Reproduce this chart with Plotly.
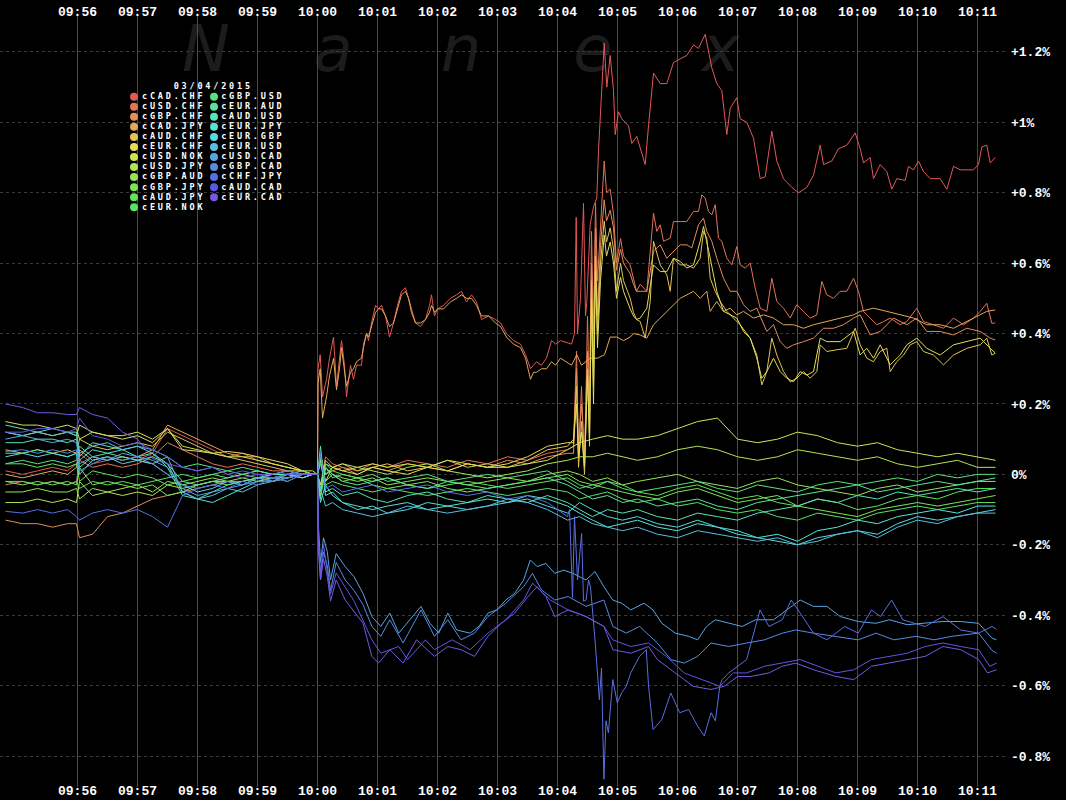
import colorsys
import pandas as pd
import plotly.graph_objects as go

# ---------------- data (seconds relative to 10:00:00, values in %) ----------------
DATE_LABEL = "03/04/2015"
BASE_TIME = "2015-03-04 10:00:00"

SERIES_NAMES = ["cCAD.CHF", "cUSD.CHF", "cGBP.CHF", "cCAD.JPY", "cAUD.CHF", "cEUR.CHF",
                "cUSD.NOK", "cUSD.JPY", "cGBP.AUD", "cGBP.JPY", "cAUD.JPY", "cEUR.NOK",
                "cGBP.USD", "cEUR.AUD", "cAUD.USD", "cEUR.JPY", "cEUR.GBP", "cEUR.USD",
                "cUSD.CAD", "cGBP.CAD", "cCHF.JPY", "cAUD.CAD", "cEUR.CAD"]

X_TICK_MINUTES = [-4, -3, -2, -1, 0, 1, 2, 3, 4, 5, 6, 7, 8, 9, 10, 11]   # 09:56 ... 10:11
Y_TICKS = [1.2, 1.0, 0.8, 0.6, 0.4, 0.2, 0.0, -0.2, -0.4, -0.6, -0.8]
Y_LABELS = ["+1.2%", "+1%", "+0.8%", "+0.6%", "+0.4%", "+0.2%", "0%", "-0.2%", "-0.4%", "-0.6%", "-0.8%"]

# common sampling times for the pairs that stay near zero
T_CLUSTER = [-312, -295, -280, -265, -250, -241, -238, -225, -210, -195, -180, -165, -150, -135, -120,
             -105, -90, -75, -60, -45, -30, -15, -5, 0,
             3, 8, 15, 25, 40, 55, 70, 90, 110, 130, 150, 170, 190, 210, 230, 250, 262, 275, 290, 305,
             320, 340, 360, 380, 400, 420, 440, 460, 480, 500, 520, 540, 560, 580, 600, 620, 640, 660, 678]

V_USD_NOK = [0.15, 0.14, 0.14, 0.13, 0.14, 0.13, 0.10, 0.12, 0.11, 0.11, 0.12, 0.10, 0.13, 0.08, 0.07, 0.06, 0.05, 0.05, 0.04, 0.03, 0.02, 0.01, 0.01, 0.0,
             0.04, -0.02, 0.02, 0.01, 0.02, 0.03, 0.02, 0.03, 0.02, 0.04, 0.03, 0.02, 0.02, 0.03, 0.04, 0.07, 0.09, 0.10, 0.11, 0.10, 0.10, 0.11, 0.13, 0.15, 0.16, 0.10, 0.09, 0.10, 0.12, 0.11, 0.09, 0.08, 0.09, 0.07, 0.06, 0.05, 0.06, 0.05, 0.04]
V_USD_JPY = [-0.08, -0.08, -0.07, -0.08, -0.07, -0.08, -0.02, -0.06, -0.05, -0.06, -0.05, -0.06, -0.03, -0.04, -0.03, -0.02, -0.02, -0.03, -0.01, -0.02, -0.01, 0.0, 0.0, 0.0,
             0.05, 0.0, 0.02, 0.03, 0.02, 0.01, 0.0, 0.02, 0.03, 0.01, 0.0, -0.01, 0.0, 0.01, 0.03, 0.04, 0.05, 0.05, 0.06, 0.05, 0.04, 0.05, 0.07, 0.08, 0.07, 0.05, 0.04, 0.05, 0.07, 0.06, 0.05, 0.04, 0.05, 0.03, 0.02, 0.03, 0.04, 0.02, 0.02]
V_GBP_AUD = [-0.05, -0.05, -0.04, -0.05, -0.05, -0.04, -0.07, -0.04, -0.05, -0.04, -0.03, -0.05, -0.02, -0.03, -0.02, -0.01, -0.02, -0.01, -0.02, -0.01, 0.0, -0.01, 0.0, 0.0,
             -0.06, 0.02, 0.0, -0.01, -0.02, -0.01, -0.03, -0.02, -0.01, -0.02, -0.03, -0.02, -0.01, -0.02, 0.0, 0.01, 0.0, -0.02, -0.01, -0.03, -0.02, -0.01, 0.0, -0.02, -0.03, -0.04, -0.02, -0.01, -0.03, -0.04, -0.05, -0.06, -0.04, -0.03, -0.05, -0.04, -0.03, -0.02, -0.02]
V_GBP_JPY = [-0.02, -0.03, -0.02, -0.03, -0.02, -0.03, 0.02, -0.03, -0.02, -0.03, -0.04, -0.03, -0.06, -0.05, -0.03, -0.02, -0.03, -0.02, -0.01, -0.01, -0.02, 0.0, 0.0, 0.0,
             0.06, -0.02, 0.0, -0.02, -0.01, -0.03, -0.04, -0.03, -0.02, -0.04, -0.05, -0.04, -0.03, -0.02, -0.01, 0.0, -0.02, -0.03, -0.04, -0.05, -0.06, -0.07, -0.05, -0.04, -0.06, -0.08, -0.07, -0.06, -0.09, -0.10, -0.11, -0.12, -0.10, -0.09, -0.08, -0.09, -0.08, -0.07, -0.06]
V_AUD_JPY = [0.03, 0.03, 0.02, 0.03, 0.02, 0.03, -0.02, 0.01, 0.0, -0.01, 0.0, -0.01, -0.03, -0.02, -0.01, 0.0, -0.01, 0.0, 0.01, 0.0, 0.0, 0.01, 0.0, 0.0,
             -0.05, 0.03, 0.01, 0.0, -0.01, -0.02, -0.01, -0.03, -0.04, -0.03, -0.02, -0.03, -0.04, -0.03, -0.02, -0.01, -0.03, -0.04, -0.02, -0.03, -0.05, -0.06, -0.04, -0.03, -0.05, -0.07, -0.06, -0.08, -0.09, -0.07, -0.08, -0.10, -0.09, -0.07, -0.06, -0.07, -0.05, -0.04, -0.04]
V_EUR_NOK = [-0.02, -0.02, -0.03, -0.02, -0.03, -0.02, -0.04, -0.02, -0.03, -0.02, -0.03, -0.02, -0.01, 0.0, -0.01, 0.0, 0.01, 0.0, -0.01, 0.0, 0.0, 0.0, 0.0, 0.0,
             0.03, -0.03, -0.02, -0.03, -0.04, -0.05, -0.04, -0.05, -0.06, -0.05, -0.04, -0.05, -0.06, -0.05, -0.04, -0.05, -0.07, -0.06, -0.05, -0.07, -0.08, -0.07, -0.09, -0.08, -0.10, -0.11, -0.10, -0.12, -0.13, -0.11, -0.12, -0.13, -0.11, -0.10, -0.09, -0.10, -0.09, -0.08, -0.08]
V_GBP_USD = [0.03, 0.04, 0.03, 0.04, 0.03, 0.04, 0.08, 0.05, 0.04, 0.05, 0.04, 0.03, 0.05, 0.02, 0.03, 0.02, 0.01, 0.02, 0.01, 0.0, 0.01, 0.0, 0.0, 0.0,
             -0.07, 0.02, -0.01, 0.0, -0.01, 0.0, -0.02, -0.01, 0.0, -0.02, -0.01, 0.0, -0.01, 0.0, 0.01, -0.02, -0.04, -0.03, -0.02, -0.04, -0.05, -0.04, -0.03, -0.02, -0.04, -0.05, -0.03, -0.04, -0.05, -0.03, -0.02, -0.03, -0.02, -0.01, -0.02, 0.0, -0.01, 0.0, 0.0]
V_EUR_AUD = [0.06, 0.06, 0.07, 0.06, 0.05, 0.06, 0.02, 0.05, 0.06, 0.05, 0.04, 0.05, 0.03, -0.02, -0.03, -0.02, -0.01, 0.0, 0.01, 0.0, 0.01, 0.0, 0.0, 0.0,
             -0.04, 0.02, 0.0, -0.02, -0.03, -0.02, -0.01, -0.03, -0.04, -0.02, -0.03, -0.04, -0.03, -0.02, -0.01, -0.03, -0.05, -0.07, -0.06, -0.08, -0.07, -0.09, -0.08, -0.07, -0.09, -0.10, -0.08, -0.07, -0.06, -0.05, -0.04, -0.03, -0.05, -0.04, -0.03, -0.02, -0.03, -0.02, -0.01]
V_AUD_USD = [0.09, 0.09, 0.10, 0.10, 0.09, 0.10, 0.04, 0.07, 0.06, 0.07, 0.05, 0.06, 0.02, -0.06, -0.07, -0.05, -0.03, -0.02, -0.01, 0.0, 0.0, -0.01, 0.0, 0.0,
             0.08, -0.05, -0.04, -0.06, -0.05, -0.07, -0.08, -0.06, -0.05, -0.07, -0.08, -0.06, -0.07, -0.08, -0.06, -0.08, -0.10, -0.12, -0.10, -0.11, -0.10, -0.12, -0.13, -0.11, -0.12, -0.13, -0.11, -0.10, -0.09, -0.07, -0.08, -0.06, -0.07, -0.05, -0.06, -0.05, -0.04, -0.05, -0.04]
V_EUR_JPY = [0.14, 0.13, 0.12, 0.13, 0.12, 0.12, 0.05, 0.09, 0.08, 0.07, 0.08, 0.06, 0.03, -0.05, -0.07, -0.08, -0.06, -0.04, -0.02, -0.01, -0.01, 0.0, 0.0, 0.0,
             -0.08, -0.03, -0.06, -0.08, -0.09, -0.10, -0.09, -0.08, -0.10, -0.09, -0.08, -0.07, -0.08, -0.06, -0.07, -0.09, -0.11, -0.13, -0.15, -0.14, -0.13, -0.15, -0.16, -0.14, -0.15, -0.17, -0.18, -0.17, -0.19, -0.16, -0.15, -0.13, -0.14, -0.12, -0.11, -0.10, -0.11, -0.09, -0.09]
V_EUR_GBP = [0.05, 0.06, 0.05, 0.06, 0.05, 0.06, 0.0, 0.04, 0.05, 0.03, 0.04, 0.03, 0.0, -0.03, -0.05, -0.04, -0.02, -0.03, -0.01, -0.02, 0.0, -0.01, 0.0, 0.0,
             0.05, -0.06, -0.05, -0.08, -0.10, -0.09, -0.11, -0.10, -0.08, -0.09, -0.10, -0.09, -0.08, -0.07, -0.09, -0.11, -0.08, -0.10, -0.12, -0.13, -0.12, -0.14, -0.15, -0.13, -0.15, -0.16, -0.18, -0.19, -0.20, -0.18, -0.17, -0.16, -0.17, -0.14, -0.12, -0.13, -0.12, -0.11, -0.10]
V_EUR_USD = [0.12, 0.11, 0.12, 0.11, 0.12, 0.11, 0.06, 0.08, 0.09, 0.07, 0.08, 0.07, 0.05, -0.05, -0.07, -0.06, -0.04, -0.05, -0.03, -0.02, -0.01, 0.0, 0.0, 0.0,
             -0.04, -0.09, -0.08, -0.10, -0.11, -0.12, -0.11, -0.09, -0.10, -0.11, -0.10, -0.09, -0.07, -0.08, -0.10, -0.13, -0.12, -0.14, -0.15, -0.16, -0.15, -0.17, -0.18, -0.16, -0.17, -0.18, -0.19, -0.18, -0.20, -0.19, -0.17, -0.16, -0.18, -0.15, -0.13, -0.14, -0.12, -0.11, -0.11]

# CHF pairs: cluster times up to 10:04:10, then the 10:04 burst, then each own reading times
T_CHF_SPIKE = [256, 259, 261, 264, 267, 270, 272, 274, 276, 278, 280, 283, 286.7, 289, 292.7, 296, 299, 303, 306, 312.7, 316, 319, 322.7]

V_USD_CHF_PRE = [-0.03, -0.02, -0.03, -0.02, -0.03, -0.02, 0.04, 0.02, 0.03, 0.02, 0.03, 0.05, 0.09, 0.07, 0.05, 0.03, 0.02, 0.03, 0.02, 0.01, 0.01, 0.0, 0.0, 0.0,
                 -0.03, 0.05, 0.03, 0.02, 0.01, 0.03, 0.02, 0.04, 0.03, 0.02, 0.04, 0.03, 0.05, 0.04, 0.06, 0.07]
V_USD_CHF_SPIKE = [0.08, 0.35, 0.05, 0.25, 0.02, 0.45, 0.2, 0.69, 0.4, 0.77, 0.55, 0.70, 0.89, 0.80, 0.81, 0.74, 0.60, 0.67, 0.62, 0.595, 0.56, 0.52, 0.54]
T_USD_CHF_POST = [329.3, 336, 339.3, 342.7, 346, 352.7, 356, 362.7, 369.3, 376, 381, 384.3, 387.7, 391, 394.3, 397.7, 401, 404.3, 409.3, 414.3,
                  419.3, 422.7, 427.7, 432.7, 437.7, 442.7, 449.3, 454.3, 459.3, 466, 472.7, 479.3, 486, 492.7, 499.3, 504.3, 509.3, 516, 522.7, 529.3,
                  536, 541, 546, 552.7, 559.3, 566, 572.7, 582.7, 589.3, 599.3, 606, 616, 626, 636, 646, 656, 662.7, 669.3, 674.3, 677.7]
V_USD_CHF_POST = [0.52, 0.742, 0.69, 0.709, 0.662, 0.671, 0.718, 0.718, 0.718, 0.747, 0.747, 0.794, 0.785, 0.747, 0.737, 0.766, 0.671, 0.662, 0.614, 0.595,
                  0.647, 0.595, 0.586, 0.60, 0.529, 0.472, 0.463, 0.557, 0.491, 0.472, 0.444, 0.482, 0.463, 0.444, 0.453, 0.548, 0.51, 0.50, 0.52, 0.52,
                  0.557, 0.52, 0.463, 0.444, 0.425, 0.434, 0.444, 0.425, 0.434, 0.472, 0.434, 0.425, 0.415, 0.444, 0.425, 0.444, 0.463, 0.486, 0.429, 0.43]

V_GBP_CHF_PRE = [-0.13, -0.14, -0.14, -0.15, -0.14, -0.14, -0.18, -0.17, -0.12, -0.11, -0.09, -0.07, -0.06, -0.05, -0.04, -0.03, -0.02, -0.02, -0.01, -0.01, 0.0, 0.0, 0.0, 0.0,
                 0.04, 0.0, 0.01, 0.02, 0.0, 0.02, 0.01, 0.03, 0.02, 0.01, 0.03, 0.02, 0.04, 0.03, 0.05, 0.06]
V_GBP_CHF_SPIKE = [0.06, 0.30, 0.08, 0.2, 0.05, 0.35, 0.15, 0.6, 0.3, 0.7, 0.45, 0.65, 0.78, 0.72, 0.75, 0.70, 0.58, 0.64, 0.60, 0.57, 0.54, 0.52, 0.52]
T_GBP_CHF_POST = [329.3, 336, 342.7, 349.3, 356, 362.7, 369.3, 374.3, 381, 386, 389.3, 394.3, 399.3, 406, 412.7, 419.3, 426, 432.7, 439.3, 449.3,
                  456, 462.7, 469.3, 476, 486, 496, 506, 516, 526, 536, 542.7, 552.7, 562.7, 576, 589.3, 599.3, 609.3, 622.7, 636, 649.3,
                  662.7, 672.7, 677.7]
V_GBP_CHF_POST = [0.52, 0.634, 0.652, 0.614, 0.633, 0.652, 0.652, 0.643, 0.709, 0.728, 0.69, 0.662, 0.614, 0.557, 0.52, 0.52, 0.482, 0.463, 0.472, 0.406,
                  0.425, 0.377, 0.358, 0.368, 0.377, 0.387, 0.415, 0.415, 0.425, 0.444, 0.453, 0.396, 0.406, 0.444, 0.425, 0.444, 0.406, 0.406, 0.396, 0.415,
                  0.406, 0.387, 0.382]

V_AUD_CHF_PRE = [0.07, 0.06, 0.07, 0.06, 0.07, 0.06, 0.10, 0.08, 0.07, 0.08, 0.09, 0.08, 0.12, 0.10, 0.08, 0.06, 0.05, 0.04, 0.03, 0.02, 0.01, 0.01, 0.0, 0.0,
                 -0.05, 0.04, 0.02, 0.03, 0.01, 0.02, 0.03, 0.01, 0.02, 0.04, 0.02, 0.03, 0.02, 0.04, 0.07, 0.08]
V_AUD_CHF_SPIKE = [0.10, 0.25, 0.02, 0.15, 0.0, 0.30, 0.08, 0.55, 0.25, 0.62, 0.40, 0.60, 0.72, 0.66, 0.70, 0.64, 0.52, 0.60, 0.55, 0.50, 0.46, 0.44, 0.434]
T_AUD_CHF_POST = [327.7, 332.7, 336, 342.7, 349.3, 352.7, 356, 362.7, 369.3, 376, 382.7, 386, 389.3, 392.7, 397.7, 402.7, 409.3, 416, 422.7, 432.7,
                  439.3, 444.3, 449.3, 454.3, 459.3, 466, 472.7, 479.3, 486, 492.7, 499.3, 502.7, 509.3, 519.3, 529.3, 537.7, 542.7, 549.3, 556, 562.7,
                  569.3, 572.7, 579.3, 586, 592.7, 599.3, 606, 616, 626, 636, 649.3, 662.7, 669.3, 674.3, 677.7]
V_AUD_CHF_POST = [0.387, 0.491, 0.662, 0.595, 0.567, 0.52, 0.614, 0.595, 0.595, 0.586, 0.614, 0.69, 0.671, 0.557, 0.52, 0.491, 0.463, 0.444, 0.425, 0.387,
                  0.339, 0.254, 0.292, 0.387, 0.339, 0.292, 0.263, 0.273, 0.292, 0.273, 0.292, 0.368, 0.349, 0.354, 0.358, 0.415, 0.368, 0.33, 0.32, 0.349,
                  0.358, 0.292, 0.32, 0.339, 0.368, 0.377, 0.349, 0.339, 0.311, 0.339, 0.358, 0.368, 0.387, 0.339, 0.344]

V_EUR_CHF_PRE = [0.12, 0.11, 0.12, 0.11, 0.12, 0.11, 0.14, 0.12, 0.11, 0.10, 0.11, 0.09, 0.13, 0.07, 0.066, 0.06, 0.065, 0.06, 0.05, 0.04, 0.03, 0.01, 0.0, 0.0,
                 -0.03, 0.03, 0.02, 0.01, 0.0, 0.02, 0.01, 0.0, 0.02, 0.01, 0.03, 0.02, 0.03, 0.05, 0.08, 0.09]
V_EUR_CHF_SPIKE = [0.09, 0.2, 0.05, 0.12, 0.02, 0.28, 0.1, 0.5, 0.2, 0.58, 0.36, 0.55, 0.68, 0.62, 0.66, 0.6, 0.5, 0.56, 0.52, 0.47, 0.45, 0.44, 0.444]
T_EUR_CHF_POST = [329.3, 336, 342.7, 349.3, 356, 362.7, 369.3, 376, 382.7, 386, 392.7, 396, 399.3, 406, 412.7, 419.3, 426, 432.7, 439.3, 444.3,
                  449.3, 456, 462.7, 469.3, 476, 482.7, 489.3, 496, 502.7, 509.3, 522.7, 536, 542.7, 549.3, 556, 562.7, 572.7, 582.7, 589.3, 599.3,
                  609.3, 622.7, 636, 649.3, 662.7, 672.7, 677.7]
V_EUR_CHF_POST = [0.472, 0.595, 0.576, 0.576, 0.614, 0.605, 0.586, 0.595, 0.662, 0.704, 0.614, 0.567, 0.52, 0.463, 0.453, 0.444, 0.406, 0.387, 0.33, 0.273,
                  0.292, 0.33, 0.292, 0.273, 0.263, 0.292, 0.282, 0.292, 0.387, 0.377, 0.377, 0.406, 0.339, 0.358, 0.33, 0.368, 0.311, 0.339, 0.368, 0.387,
                  0.358, 0.339, 0.368, 0.377, 0.387, 0.358, 0.345]

V_CHF_JPY_PRE = [-0.105, -0.11, -0.10, -0.11, -0.10, -0.12, -0.13, -0.11, -0.10, -0.11, -0.10, -0.12, -0.15, -0.06, -0.04, -0.03, -0.04, -0.02, -0.03, -0.01, -0.02, 0.0, 0.0, 0.0,
                 0.06, -0.04, -0.03, -0.05, -0.04, -0.03, -0.05, -0.04, -0.03, -0.05, -0.06, -0.05, -0.07, -0.06, -0.08, -0.12]
T_CHF_JPY_POST = [252, 255, 257, 260, 264.1, 266, 268.5, 271, 273, 277.5, 281.9, 284, 286.4, 288.5, 290.9, 295.3, 299.8, 304.2, 308.7, 313.2,
                  322.1, 328.8, 331, 335.5, 344.4, 353.3, 362.2, 371.1, 380.1, 386.8, 393.5, 397.9, 402.4, 404.6, 411.3, 420.2, 429.1, 442.5, 451.4, 464.8,
                  473.7, 482.7, 496, 509.4, 527.3, 540.7, 554, 563, 574.1, 585.3, 607.6, 625.4, 643.3, 661.1, 674.5, 679]
V_CHF_JPY_POST = [-0.10, -0.35, -0.12, -0.30, -0.168, -0.36, -0.357, -0.30, -0.32, -0.47, -0.64, -0.55, -0.866, -0.70, -0.734, -0.583, -0.649, -0.62, -0.602, -0.564,
                  -0.517, -0.498, -0.60, -0.725, -0.696, -0.621, -0.677, -0.668, -0.715, -0.743, -0.677, -0.70, -0.60, -0.583, -0.564, -0.545, -0.526, -0.385, -0.432, -0.413,
                  -0.357, -0.394, -0.451, -0.47, -0.432, -0.451, -0.385, -0.404, -0.357, -0.413, -0.432, -0.404, -0.442, -0.451, -0.432, -0.44]

# CAD pairs: cluster times before 10:00, then own reading times
T_CAD_BAND = [0, 0.5, 2.7, 5, 9, 12, 16, 19, 22, 24, 27, 29, 33, 36, 39, 44, 46, 49, 51, 54, 58, 61, 64, 68, 72, 76, 80, 84, 88, 91,
              94, 98, 103, 108, 112, 114, 117, 120, 126, 133, 139, 144, 149, 154, 159, 164, 171, 178, 183, 189, 196, 203, 208, 213, 216,
              219, 224, 229, 234, 238, 243, 249, 254]

V_CAD_CHF_PRE = [0.01, 0.0, 0.01, 0.02, 0.01, 0.03, 0.06, 0.03, 0.04, 0.05, 0.04, 0.06, 0.13, 0.11, 0.09, 0.07, 0.05, 0.06, 0.04, 0.03, 0.02, 0.01, 0.0]
V_CAD_CHF_BAND = [0.0, 0.30, 0.34, 0.22, 0.27, 0.33, 0.39, 0.25, 0.33, 0.38, 0.31, 0.22, 0.31, 0.27, 0.31, 0.31, 0.37, 0.40, 0.38, 0.43,
                  0.48, 0.47, 0.48, 0.45, 0.39, 0.43, 0.48, 0.52, 0.53, 0.50, 0.47, 0.43, 0.42, 0.44, 0.48, 0.51, 0.45, 0.47, 0.48, 0.50,
                  0.51, 0.52, 0.49, 0.51, 0.49, 0.44, 0.45, 0.44, 0.43, 0.40, 0.38, 0.37, 0.34, 0.30, 0.31, 0.32, 0.31, 0.33, 0.38, 0.37,
                  0.38, 0.375, 0.37]
T_CAD_CHF_POST = [257, 258.7, 260, 263, 266, 268, 269.3, 272.7, 276, 279.3, 281, 284.3, 286.7, 289.3, 292.7, 296, 297.7, 301, 304.3, 311,
                  314.3, 319.3, 322.7, 327.7, 331, 336, 342.7, 349.3, 356, 362.7, 369.3, 376, 381, 387.7, 391, 394.3, 399.3, 404.3, 409.3, 412.7,
                  419.3, 422.7, 429.3, 436, 442.7, 447.7, 454.3, 459.3, 466, 474.3, 481, 489.3, 496, 502.7, 506, 514.3, 521, 529.3, 537.7, 542.7,
                  546, 552.7, 556, 562.7, 569.3, 574.3, 579.3, 587.7, 591, 596, 601, 606, 612.7, 622.7, 629.3, 636, 642.7, 649.3, 656, 661,
                  664.3, 669.3, 672.7, 677.7]
V_CAD_CHF_POST = [0.40, 0.73, 0.40, 0.50, 0.77, 0.45, 0.49, 0.71, 0.76, 0.785, 0.92, 1.09, 1.225, 1.10, 1.19, 1.09, 0.965, 1.03, 1.01, 0.99,
                  0.94, 0.96, 0.93, 0.88, 0.99, 1.14, 1.11, 1.11, 1.17, 1.18, 1.19, 1.22, 1.21, 1.25, 1.20, 1.155, 1.11, 1.09, 0.965, 1.04,
                  1.07, 1.01, 1.0, 0.955, 0.84, 0.845, 0.975, 0.89, 0.84, 0.815, 0.80, 0.815, 0.85, 0.935, 0.88, 0.89, 0.925, 0.935, 0.97, 0.925,
                  0.885, 0.90, 0.84, 0.88, 0.86, 0.81, 0.84, 0.835, 0.875, 0.865, 0.89, 0.86, 0.84, 0.84, 0.81, 0.875, 0.865, 0.865, 0.865, 0.88,
                  0.93, 0.935, 0.885, 0.90]

V_CAD_JPY_PRE = [0.0, -0.01, 0.0, 0.01, 0.0, 0.02, 0.07, 0.04, 0.05, 0.04, 0.05, 0.07, 0.14, 0.12, 0.10, 0.08, 0.06, 0.05, 0.05, 0.03, 0.02, 0.01, 0.0]
V_CAD_JPY_BAND = [0.0, 0.26, 0.30, 0.16, 0.22, 0.28, 0.33, 0.24, 0.30, 0.36, 0.30, 0.25, 0.29, 0.30, 0.32, 0.33, 0.36, 0.40, 0.39, 0.42,
                  0.46, 0.47, 0.47, 0.45, 0.42, 0.43, 0.47, 0.51, 0.52, 0.50, 0.46, 0.43, 0.43, 0.44, 0.46, 0.48, 0.46, 0.47, 0.47, 0.49,
                  0.50, 0.51, 0.50, 0.50, 0.48, 0.45, 0.45, 0.43, 0.42, 0.39, 0.37, 0.36, 0.33, 0.27, 0.29, 0.29, 0.30, 0.30, 0.32, 0.31,
                  0.33, 0.32, 0.31]
T_CAD_JPY_POST = [259.3, 264, 272.7, 280, 287, 292.7, 299.3, 306, 312.7, 316, 322.7, 329.3, 336, 342.7, 349.3, 356, 362.7, 369.3, 376, 382.7,
                  389.3, 392.7, 399.3, 406, 412.7, 419.3, 426, 436, 446, 456, 466, 476, 486, 496, 509.3, 522.7, 536, 542.7, 556, 569.3,
                  582.7, 596, 609.3, 622.7, 636, 649.3, 662.7, 669.3, 677.7]
V_CAD_JPY_POST = [0.34, 0.31, 0.33, 0.33, 0.34, 0.39, 0.39, 0.38, 0.39, 0.40, 0.396, 0.387, 0.425, 0.444, 0.463, 0.48, 0.50, 0.51, 0.52, 0.50,
                  0.52, 0.463, 0.491, 0.463, 0.472, 0.453, 0.463, 0.444, 0.453, 0.444, 0.425, 0.425, 0.415, 0.425, 0.434, 0.444, 0.453, 0.463, 0.472, 0.463,
                  0.453, 0.444, 0.425, 0.425, 0.415, 0.434, 0.453, 0.463, 0.467]

V_USD_CAD_PRE = [0.10, 0.11, 0.10, 0.09, 0.10, 0.09, 0.03, 0.05, 0.04, 0.06, 0.05, 0.04, 0.02, -0.04, -0.06, -0.05, -0.04, -0.03, -0.02, -0.02, -0.01, 0.0, 0.0]
T_USD_CAD_POST = [0, 1, 3, 6, 9.8, 13, 18.7, 27.7, 36.6, 45.5, 54.4, 63.3, 72.3, 81.2, 94.6, 103.5, 112.4, 121.3, 130.3, 139.2,
                  152.6, 161.5, 170.4, 179.3, 188.3, 197.2, 206.1, 212.8, 219.5, 228.4, 237.3, 246.2, 255.2, 268.5, 277.5, 286.4, 295.3, 304.2, 313.2, 326.5,
                  335.5, 344.4, 357.8, 371.1, 380.1, 389, 397.9, 411.3, 424.7, 438.1, 455.9, 469.3, 482.7, 496, 509.4, 522.8, 540.7, 558.5, 571.9, 589.7,
                  607.6, 625.4, 643.3, 661.1, 674.5, 679]
V_USD_CAD_POST = [0.0, -0.15, -0.25, -0.18, -0.22, -0.30, -0.225, -0.262, -0.291, -0.338, -0.404, -0.432, -0.394, -0.451, -0.404, -0.375, -0.423, -0.451, -0.394, -0.442,
                  -0.451, -0.432, -0.394, -0.385, -0.357, -0.338, -0.30, -0.243, -0.262, -0.253, -0.281, -0.272, -0.281, -0.30, -0.276, -0.319, -0.357, -0.366, -0.385, -0.366,
                  -0.385, -0.423, -0.451, -0.46, -0.47, -0.432, -0.413, -0.423, -0.432, -0.413, -0.413, -0.385, -0.357, -0.375, -0.375, -0.404, -0.418, -0.423, -0.413, -0.427,
                  -0.423, -0.418, -0.418, -0.423, -0.465, -0.47]

V_GBP_CAD_PRE = [0.065, 0.07, 0.06, 0.07, 0.06, 0.07, 0.01, 0.03, 0.05, 0.04, 0.05, 0.03, 0.0, -0.03, -0.04, -0.03, -0.02, -0.03, -0.01, -0.02, -0.01, 0.0, 0.0]
T_GBP_CAD_POST = [0, 1, 3, 6, 9.8, 13, 18.7, 27.7, 36.6, 45.5, 54.4, 63.3, 72.3, 85.6, 103.5, 116.9, 130.3, 143.6, 157, 170.4,
                  188.3, 206.1, 215, 223.9, 237.3, 250.7, 268.5, 286.4, 295.3, 308.7, 322.1, 339.9, 353.3, 366.7, 380.1, 393.5, 411.3, 429.1, 447, 464.8,
                  478.2, 496, 518.4, 540.7, 558.5, 576.4, 598.6, 616.5, 634.3, 661.1, 674.5, 679]
V_GBP_CAD_POST = [0.0, -0.2, -0.3, -0.22, -0.26, -0.33, -0.25, -0.30, -0.33, -0.37, -0.432, -0.46, -0.413, -0.479, -0.385, -0.46, -0.413, -0.47, -0.451, -0.404,
                  -0.366, -0.319, -0.281, -0.328, -0.357, -0.347, -0.375, -0.357, -0.432, -0.451, -0.432, -0.479, -0.526, -0.536, -0.517, -0.479, -0.489, -0.479, -0.47, -0.451,
                  -0.442, -0.451, -0.46, -0.47, -0.451, -0.47, -0.46, -0.47, -0.46, -0.451, -0.50, -0.508]

V_AUD_CAD_PRE = [0.12, 0.12, 0.13, 0.13, 0.12, 0.13, 0.16, 0.11, 0.10, 0.08, 0.09, 0.07, 0.05, 0.02, 0.01, 0.02, 0.0, 0.01, 0.0, -0.01, 0.0, 0.0, 0.0]
T_AUD_CAD_POST = [0, 1, 3, 6, 9.8, 13, 18.7, 27.7, 36.6, 54.4, 63.3, 81.2, 90.1, 108, 116.9, 134.7, 152.6, 170.4, 188.3, 206.1,
                  215, 232.9, 250.7, 268.5, 286.4, 295.3, 313.2, 331, 348.8, 366.7, 384.5, 402.4, 415.8, 429.1, 447, 464.8, 482.7, 500.5, 518.4, 536.2,
                  554, 571.9, 589.7, 607.6, 625.4, 643.3, 661.1, 672.3, 679]
V_AUD_CAD_POST = [0.0, -0.18, -0.28, -0.2, -0.27, -0.34, -0.28, -0.32, -0.36, -0.47, -0.508, -0.489, -0.526, -0.47, -0.498, -0.47, -0.498, -0.451, -0.413, -0.357,
                  -0.309, -0.357, -0.385, -0.404, -0.432, -0.47, -0.489, -0.479, -0.517, -0.564, -0.583, -0.602, -0.564, -0.564, -0.545, -0.536, -0.526, -0.545, -0.564, -0.555,
                  -0.526, -0.517, -0.508, -0.489, -0.479, -0.489, -0.498, -0.545, -0.536]

V_EUR_CAD_PRE = [0.20, 0.19, 0.175, 0.175, 0.17, 0.17, 0.19, 0.17, 0.16, 0.12, 0.10, 0.045, 0.03, 0.02, 0.01, 0.02, 0.0, -0.01, 0.0, 0.0, 0.01, 0.0, 0.0]
T_EUR_CAD_POST = [0, 1, 3, 6, 9.8, 13, 18.7, 27.7, 45.5, 54.4, 61.1, 72.3, 85.6, 99, 116.9, 130.3, 143.6, 157, 170.4, 183.8,
                  197.2, 210.6, 219.5, 228.4, 237.3, 250.7, 268.5, 286.4, 295.3, 313.2, 331, 339.9, 357.8, 375.6, 393.5, 406.8, 420.2, 433.6, 451.4, 464.8,
                  478.2, 496, 518.4, 536.2, 554, 571.9, 589.7, 607.6, 625.4, 643.3, 661.1, 670, 679]
V_EUR_CAD_POST = [0.0, -0.22, -0.3, -0.24, -0.29, -0.36, -0.3, -0.357, -0.423, -0.517, -0.536, -0.498, -0.536, -0.47, -0.517, -0.489, -0.498, -0.517, -0.46, -0.423,
                  -0.394, -0.347, -0.319, -0.347, -0.404, -0.385, -0.404, -0.432, -0.498, -0.508, -0.489, -0.526, -0.564, -0.602, -0.611, -0.602, -0.574, -0.574, -0.564, -0.545,
                  -0.536, -0.555, -0.574, -0.583, -0.545, -0.536, -0.526, -0.517, -0.489, -0.498, -0.526, -0.564, -0.555]

# ---------------- assemble series (time, value) ----------------
T_PRE_CAD = T_CLUSTER[:23]
T_PRE_CHF = T_CLUSTER[:40]
SERIES = {
    "cCAD.CHF": (T_PRE_CAD + T_CAD_BAND + T_CAD_CHF_POST, V_CAD_CHF_PRE + V_CAD_CHF_BAND + V_CAD_CHF_POST),
    "cUSD.CHF": (T_PRE_CHF + T_CHF_SPIKE + T_USD_CHF_POST, V_USD_CHF_PRE + V_USD_CHF_SPIKE + V_USD_CHF_POST),
    "cGBP.CHF": (T_PRE_CHF + T_CHF_SPIKE + T_GBP_CHF_POST, V_GBP_CHF_PRE + V_GBP_CHF_SPIKE + V_GBP_CHF_POST),
    "cCAD.JPY": (T_PRE_CAD + T_CAD_BAND + T_CAD_JPY_POST, V_CAD_JPY_PRE + V_CAD_JPY_BAND + V_CAD_JPY_POST),
    "cAUD.CHF": (T_PRE_CHF + T_CHF_SPIKE + T_AUD_CHF_POST, V_AUD_CHF_PRE + V_AUD_CHF_SPIKE + V_AUD_CHF_POST),
    "cEUR.CHF": (T_PRE_CHF + T_CHF_SPIKE + T_EUR_CHF_POST, V_EUR_CHF_PRE + V_EUR_CHF_SPIKE + V_EUR_CHF_POST),
    "cUSD.NOK": (T_CLUSTER, V_USD_NOK),
    "cUSD.JPY": (T_CLUSTER, V_USD_JPY),
    "cGBP.AUD": (T_CLUSTER, V_GBP_AUD),
    "cGBP.JPY": (T_CLUSTER, V_GBP_JPY),
    "cAUD.JPY": (T_CLUSTER, V_AUD_JPY),
    "cEUR.NOK": (T_CLUSTER, V_EUR_NOK),
    "cGBP.USD": (T_CLUSTER, V_GBP_USD),
    "cEUR.AUD": (T_CLUSTER, V_EUR_AUD),
    "cAUD.USD": (T_CLUSTER, V_AUD_USD),
    "cEUR.JPY": (T_CLUSTER, V_EUR_JPY),
    "cEUR.GBP": (T_CLUSTER, V_EUR_GBP),
    "cEUR.USD": (T_CLUSTER, V_EUR_USD),
    "cUSD.CAD": (T_PRE_CAD + T_USD_CAD_POST, V_USD_CAD_PRE + V_USD_CAD_POST),
    "cGBP.CAD": (T_PRE_CAD + T_GBP_CAD_POST, V_GBP_CAD_PRE + V_GBP_CAD_POST),
    "cCHF.JPY": (T_PRE_CHF + T_CHF_JPY_POST, V_CHF_JPY_PRE + V_CHF_JPY_POST),
    "cAUD.CAD": (T_PRE_CAD + T_AUD_CAD_POST, V_AUD_CAD_PRE + V_AUD_CAD_POST),
    "cEUR.CAD": (T_PRE_CAD + T_EUR_CAD_POST, V_EUR_CAD_PRE + V_EUR_CAD_POST),
}

# ---------------- styling ----------------
W, H = 1066, 800
ML, MR, MT, MB = 0, 61, 13, 13
PW, PH = W - ML - MR, H - MT - MB
FONT = "Liberation Mono"
LEGEND_FONT = "DejaVu Sans Mono"
NBSP = "\u00a0"
base = pd.Timestamp(BASE_TIME)


def to_time(secs):
    return [base + pd.Timedelta(seconds=s) for s in secs]


def px(xpix):
    return (xpix - ML) / PW


def py(ypix):
    return (H - MB - ypix) / PH


def color(i, n):
    h = i * 253.0 / (n - 1) / 360.0
    r, g, b = colorsys.hls_to_rgb(h, 0.62, 0.72)
    return "#%02x%02x%02x" % (int(r * 255), int(g * 255), int(b * 255))


COLORS = [color(i, len(SERIES_NAMES)) for i in range(len(SERIES_NAMES))]

fig = go.Figure()
for i, name in enumerate(SERIES_NAMES):
    t, v = SERIES[name]
    fig.add_trace(go.Scatter(x=to_time(t), y=v, mode="lines", name=name,
                             line=dict(color=COLORS[i], width=1), hoverinfo="skip"))

# invisible trace to carry the top time axis
fig.add_trace(go.Scatter(x=to_time([T_CLUSTER[0]]), y=[None], xaxis="x2", mode="lines",
                         showlegend=False, hoverinfo="skip"))

x_range = to_time([-317.5, -317.5 + PW])
x_ticks = to_time([m * 60 for m in X_TICK_MINUTES])
tick_font = dict(family=FONT, size=13, color="white", weight="bold")
common_x = dict(type="date", range=x_range, tickformat="%H:%M", tickmode="array", tickvals=x_ticks,
                ticks="", tickfont=tick_font, zeroline=False, showline=False, automargin=False)

fig.update_layout(
    width=W, height=H,
    margin=dict(l=ML, r=MR, t=MT, b=MB, pad=0, autoexpand=False),
    paper_bgcolor="black", plot_bgcolor="black",
    showlegend=False,
    xaxis=dict(**common_x, showgrid=True, gridcolor="#4a4a4a", gridwidth=1, ticklabelstandoff=-6),
    xaxis2=dict(**common_x, overlaying="x", side="top", anchor="y", matches="x", showgrid=False,
                ticklabelstandoff=-7),
    yaxis=dict(range=[-0.888, 1.3105], side="right", tickvals=Y_TICKS, ticktext=Y_LABELS,
               showgrid=True, gridcolor="#3a3a3a", griddash="3px,3px", gridwidth=1, automargin=False,
               zeroline=False, ticks="", tickfont=tick_font, ticklabelstandoff=5),
)

shapes = []
# watermark letters drawn under the lines
for letter, cx in zip(["N", "a", "n", "e", "x"], [206, 333, 461, 593, 721]):
    shapes.append(dict(type="rect", xref="paper", yref="paper", layer="between",
                       x0=px(cx - 40), x1=px(cx + 40), y0=py(80), y1=py(8),
                       line=dict(width=0), fillcolor="rgba(0,0,0,0)",
                       label=dict(text=letter, textposition="middle center",
                                  font=dict(family="DejaVu Sans", size=64, color="#1c1c1c", style="italic"))))

# legend: one text block (title + two columns), markers as small circles
ROW_PITCH = 10.05
SPAN_STYLE = "font-size:8.5px;letter-spacing:2.8px"
legend_lines = [NBSP * 4 + DATE_LABEL]
for r in range(12):
    left = SERIES_NAMES[r]
    right = SERIES_NAMES[12 + r] if 12 + r < len(SERIES_NAMES) else ""
    legend_lines.append(left + NBSP * 2 + right)
legend_text = "<br>".join('<span style="%s">%s</span>' % (SPAN_STYLE, ln) for ln in legend_lines)

annotations = [dict(text=legend_text, x=px(141), y=py(80), xref="paper", yref="paper",
                    xanchor="left", yanchor="top", align="left", showarrow=False, borderpad=0,
                    font=dict(family=LEGEND_FONT, size=ROW_PITCH / 1.3, color="white", weight="bold"))]
for i, name in enumerate(SERIES_NAMES):
    col, row = (0, i) if i < 12 else (1, i - 12)
    mx = 134 if col == 0 else 214
    ry = 96.7 + ROW_PITCH * row
    shapes.append(dict(type="circle", xref="paper", yref="paper", xsizemode="pixel", ysizemode="pixel",
                       xanchor=px(mx), yanchor=py(ry), x0=-4, x1=4, y0=-4, y1=4,
                       fillcolor=COLORS[i], line=dict(width=0), layer="above"))

fig.update_layout(shapes=shapes, annotations=annotations)
fig.write_html("out.html", config={"displayModeBar": False})
